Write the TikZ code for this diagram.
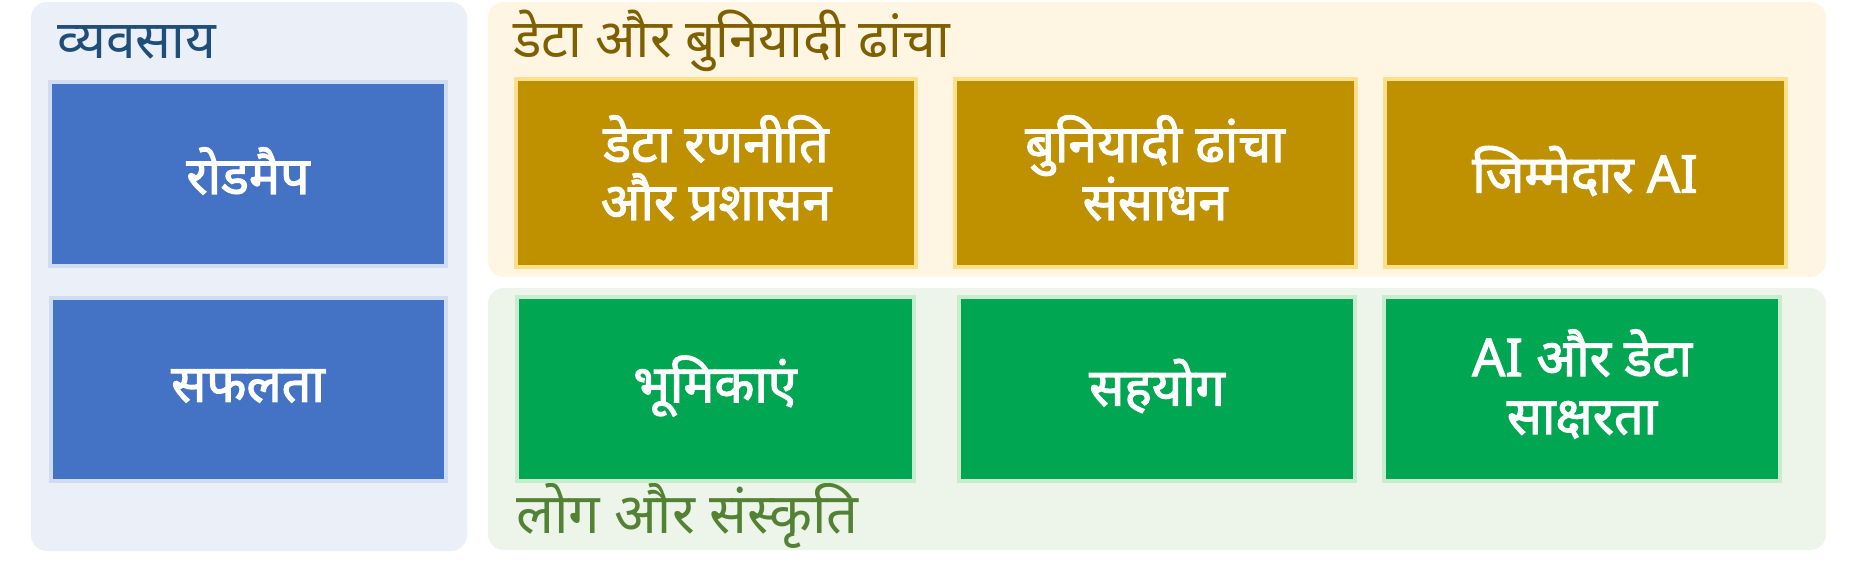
\documentclass[tikz,border=0pt]{standalone}
\usepackage{fontspec}
\newfontfamily\deva[Script=Devanagari]{Noto Sans}
\newfontfamily\devab[Script=Devanagari,FakeBold=2.2]{Noto Sans}
\definecolor{bizbg}{HTML}{EBF0F8}
\definecolor{bizt}{HTML}{1F4E79}
\definecolor{bizbox}{HTML}{4472C4}
\definecolor{bizedge}{HTML}{CFDCF1}
\definecolor{datbg}{HTML}{FFF5E3}
\definecolor{datt}{HTML}{7F6000}
\definecolor{datbox}{HTML}{BF9000}
\definecolor{datedge}{HTML}{FFE08A}
\definecolor{pplbg}{HTML}{EDF4EA}
\definecolor{pplt}{HTML}{548235}
\definecolor{pplbox}{HTML}{00A651}
\definecolor{ppledge}{HTML}{C8ECCC}
\tikzset{
  panel/.style={rounded corners=16pt, draw=none},
  cardbox/.style={line width=4pt},
  cardtext/.style={font=\devab\fontsize{52}{58}\selectfont, text=white, align=center, inner sep=0pt},
  paneltitle/.style={font=\deva\fontsize{53}{60}\selectfont, anchor=base west, inner sep=0pt}
}
\begin{document}
\begin{tikzpicture}[x=1pt,y=-1pt]
\useasboundingbox (0,0) rectangle (1854,560);
\fill[white] (0,0) rectangle (1854,560);
% panels
\fill[panel, bizbg] (31,2) rectangle (467,551);
\fill[panel, datbg] (488,2) rectangle (1826,277);
\fill[panel, pplbg] (488,288) rectangle (1826,550);
% titles
\node[paneltitle, text=bizt] (tbiz) at (57,58) {व्यवसाय};
\node[paneltitle, text=datt] (tdat) at (513,57) {डेटा और बुनियादी ढांचा};
\node[paneltitle, text=pplt, font=\deva\fontsize{56}{60}\selectfont] (tppl) at (516,533) {लोग और संस्कृति};
% business cards
\filldraw[cardbox, fill=bizbox, draw=bizedge] (50,82) rectangle (446,266);
\filldraw[cardbox, fill=bizbox, draw=bizedge] (51,298) rectangle (446,481);
% data cards
\filldraw[cardbox, fill=datbox, draw=datedge] (516,79) rectangle (916,267);
\filldraw[cardbox, fill=datbox, draw=datedge] (955,79) rectangle (1356,267);
\filldraw[cardbox, fill=datbox, draw=datedge] (1385,79) rectangle (1786,267);
% people cards
\filldraw[cardbox, fill=pplbox, draw=ppledge] (517,297) rectangle (914,481);
\filldraw[cardbox, fill=pplbox, draw=ppledge] (959,297) rectangle (1355,481);
\filldraw[cardbox, fill=pplbox, draw=ppledge] (1384,297) rectangle (1780,481);
% card texts
\node[cardtext] (roadmap) at (248,171) {रोडमैप};
\node[cardtext] (success) at (248,386) {सफलता};
\node[cardtext] (strategy) at (716,168) {डेटा रणनीति\\और प्रशासन};
\node[cardtext] (infra) at (1155,168) {बुनियादी ढांचा\\संसाधन};
\node[cardtext] (rai) at (1585,171) {जिम्मेदार AI};
\node[cardtext] (roles) at (715,386) {भूमिकाएं};
\node[cardtext] (collab) at (1157,386) {सहयोग};
\node[cardtext] (literacy) at (1582,384) {AI और डेटा\\साक्षरता};
\end{tikzpicture}
\end{document}
